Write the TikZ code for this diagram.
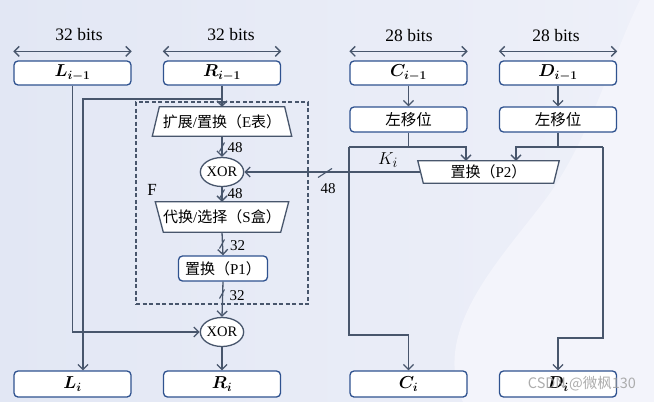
\documentclass[tikz,border=0pt]{standalone}
\usepackage{fontspec}
\setmainfont{Liberation Serif}
\newfontfamily\cjk{Noto Sans CJK SC}
\newfontfamily\wmfont{Noto Sans CJK SC}
\usepackage{amsmath,bm}
\usetikzlibrary{arrows.meta,shapes.geometric,calc,backgrounds}
\definecolor{boxc}{RGB}{47,82,143}
\definecolor{linec}{RGB}{72,86,108}
\definecolor{bgA}{RGB}{226,231,244}
\definecolor{bgB}{RGB}{238,240,249}
\definecolor{bgC}{RGB}{243,244,251}
\tikzset{
  box/.style={draw=boxc, line width=1.3pt, rounded corners=4pt, fill=white,
    minimum width=117pt, minimum height=24pt, inner sep=0pt,
    font=\fontsize{17}{19}\selectfont},
  conn/.style={draw=linec, line width=1.3pt},
  arrowto/.style={-{Straight Barb[length=5pt,width=10pt]}},
  dblarrow/.style={{Straight Barb[length=5pt,width=10pt]}-{Straight Barb[length=5pt,width=10pt]}},
  xor/.style={ellipse, draw=linec, fill=white, line width=1.3pt,
    minimum width=36pt, minimum height=29pt, inner sep=0pt,
    font=\fontsize{14.5}{16}\selectfont},
  trapnode/.style={inner sep=0pt, font=\fontsize{15}{17}\selectfont},
  trapline/.style={draw=linec, fill=white, line width=1.3pt},
  numlab/.style={inner sep=0pt, font=\fontsize{15}{17}\selectfont},
  bitlab/.style={inner sep=0pt, font=\fontsize{17.5}{19}\selectfont},
}
\begin{document}
\begin{tikzpicture}[x=1pt,y=-1pt,font=\fontsize{15}{17}\selectfont]
\useasboundingbox (0,0) rectangle (654,402);
\begin{scope}[on background layer]
  \shade[left color=bgA, right color=bgB] (0,0) rectangle (654,402);
  \fill[bgC] (463,402) .. controls (430,330) and (500,260) .. (545,200)
     .. controls (590,140) and (610,60) .. (640,0) -- (654,0) -- (654,402) -- cycle;
\end{scope}

% top boxes
\node[box] (Lp) at (72.5,73) {$\bm{L_{i-1}}$};
\node[box] (Rp) at (222,73) {$\bm{R_{i-1}}$};
\node[box] (Cp) at (408.5,73) {$\bm{C_{i-1}}$};
\node[box] (Dp) at (558,73) {$\bm{D_{i-1}}$};

% bit widths
\draw[conn,dblarrow] ([yshift=9pt]Lp.north west) -- ([yshift=9pt]Lp.north east);
\draw[conn,dblarrow] ([yshift=9pt]Rp.north west) -- ([yshift=9pt]Rp.north east);
\draw[conn,dblarrow] ([yshift=9pt]Cp.north west) -- ([yshift=9pt]Cp.north east);
\draw[conn,dblarrow] ([yshift=9pt]Dp.north west) -- ([yshift=9pt]Dp.north east);
\node[bitlab] (bL) at (79,35) {32 bits};
\node[bitlab] (bR) at (231,35) {32 bits};
\node[bitlab] (bC) at (409,36) {28 bits};
\node[bitlab] (bD) at (556,36) {28 bits};

% shift boxes
\node[box, minimum height=25pt, font=\cjk\fontsize{15.5}{17}\selectfont] (Cs) at (408.5,119.5) {左移位};
\node[box, minimum height=25pt, font=\cjk\fontsize{15.5}{17}\selectfont] (Ds) at (558,119.5) {左移位};

% bottom boxes
\node[box, minimum height=26pt] (Li) at (72.5,384) {$\bm{L_{i}}$};
\node[box, minimum height=26pt] (Ri) at (222,384) {$\bm{R_{i}}$};
\node[box, minimum height=26pt] (Ci) at (408.5,384) {$\bm{C_{i}}$};
\node[box, minimum height=26pt] (Di) at (558,384) {$\bm{D_{i}}$};

% F box
\node[draw=linec, line width=1.2pt, dash pattern=on 4pt off 2.5pt,
  minimum width=172pt, minimum height=202pt, inner sep=0pt] (Fbox) at (222,203) {};
\node[inner sep=0pt, font=\fontsize{17}{19}\selectfont] (Flab) at (152,190) {F};

% F internals
\node[trapnode, minimum width=125pt, minimum height=29pt] (E) at (222,121.5)
  {{\cjk 扩展}/{\cjk 置换（}E{\cjk 表）}};
\node[xor] (X1) at (222,172) {XOR};
\node[trapnode, minimum width=133pt, minimum height=30pt] (S) at (222,217)
  {{\cjk 代换}/{\cjk 选择（}S{\cjk 盒）}};
\node[box, minimum width=89pt, minimum height=25pt, font=\fontsize{15}{17}\selectfont] (P1) at (223,268.5)
  {{\cjk 置换（}P1{\cjk ）}};
\node[xor] (X2) at (222,332) {XOR};

% P2
\node[trapnode, minimum width=141pt, minimum height=22pt] (P2) at (488.5,172)
  {{\cjk 置换（}P2{\cjk ）}};

\begin{scope}[on background layer]
  \draw[trapline] (E.north west) -- (E.north east) -- ([xshift=7pt]E.south east)
     -- ([xshift=-7pt]E.south west) -- cycle;
  \draw[trapline] (S.north west) -- (S.north east) -- ([xshift=-8pt]S.south east)
     -- ([xshift=8pt]S.south west) -- cycle;
  \draw[trapline] (P2.north west) -- (P2.north east) -- ([xshift=-5.5pt]P2.south east)
     -- ([xshift=5.5pt]P2.south west) -- cycle;
\end{scope}

% R path
\coordinate (jR) at (222,99);
\draw[conn,arrowto] (Rp.south) -- (E.north);
\draw[conn,arrowto] (jR) -| ([xshift=10.5pt]Li.north);
\draw[conn,arrowto] (Lp.south) |- (X2.west);

% F chain
\draw[conn,arrowto] (E.south) -- (X1.north);
\draw[conn,arrowto] (X1.south) -- (S.north);
\draw[conn,arrowto] (S.south) -- (P1.north);
\draw[conn,arrowto] (P1.south) -- (X2.north);
\draw[conn,arrowto] (X2.south) -- (Ri.north);

\coordinate (m1) at (222,147);
\coordinate (m2) at (222,194);
\coordinate (m3) at (222,244);
\coordinate (m4) at (222,294);
\foreach \m in {m1,m2,m3,m4}
  \draw[conn, line width=1.1pt] ($(\m)+(-2.5,4.5)$) -- ($(\m)+(2.5,-4.5)$);
\node[numlab, anchor=west] (n1) at (227.5,148) {48};
\node[numlab, anchor=west] (n2) at (227.5,194) {48};
\node[numlab, anchor=west] (n3) at (230,246) {32};
\node[numlab, anchor=west] (n4) at (229.5,296) {32};

% key schedule
\draw[conn,arrowto] (Cp.south) -- (Cs.north);
\draw[conn,arrowto] (Dp.south) -- (Ds.north);

\coordinate (cA) at (349,147);
\coordinate (cB) at (466,147);
\coordinate (cC) at (349,335);
\draw[conn] (Cs.south) -- (Cs.south |- cA);
\draw[conn,arrowto] (cA) -- (cB) -- (cB |- P2.north);
\draw[conn,arrowto] (cA) -- (cC) -| (Ci.north);

\coordinate (dA) at (516,147);
\coordinate (dB) at (603,147);
\coordinate (dC) at (603,338);
\draw[conn] (Ds.south) -- (Ds.south |- dA);
\draw[conn,arrowto] (dB) -- (dA) -- (dA |- P2.north);
\draw[conn,arrowto] (dB) -- (dC) -| (Di.north);

% Ki
\draw[conn,arrowto] ([xshift=3pt]P2.west) -- (X1.east);
\coordinate (kS) at (325,173);
\draw[conn, line width=1.1pt] ($(kS)+(-7,4.5)$) -- ($(kS)+(7,-4.5)$);
\node[numlab] (n5) at (328,189) {48};
\node[inner sep=0pt, font=\fontsize{19}{21}\selectfont] (Ki) at (388,160) {$K_i$};

% watermark
\node[inner sep=0pt, text=gray!75, opacity=0.85, font=\wmfont\fontsize{14.5}{16}\selectfont]
  (wm) at (582,384) {CSDN @微枫130};
\end{tikzpicture}
\end{document}
